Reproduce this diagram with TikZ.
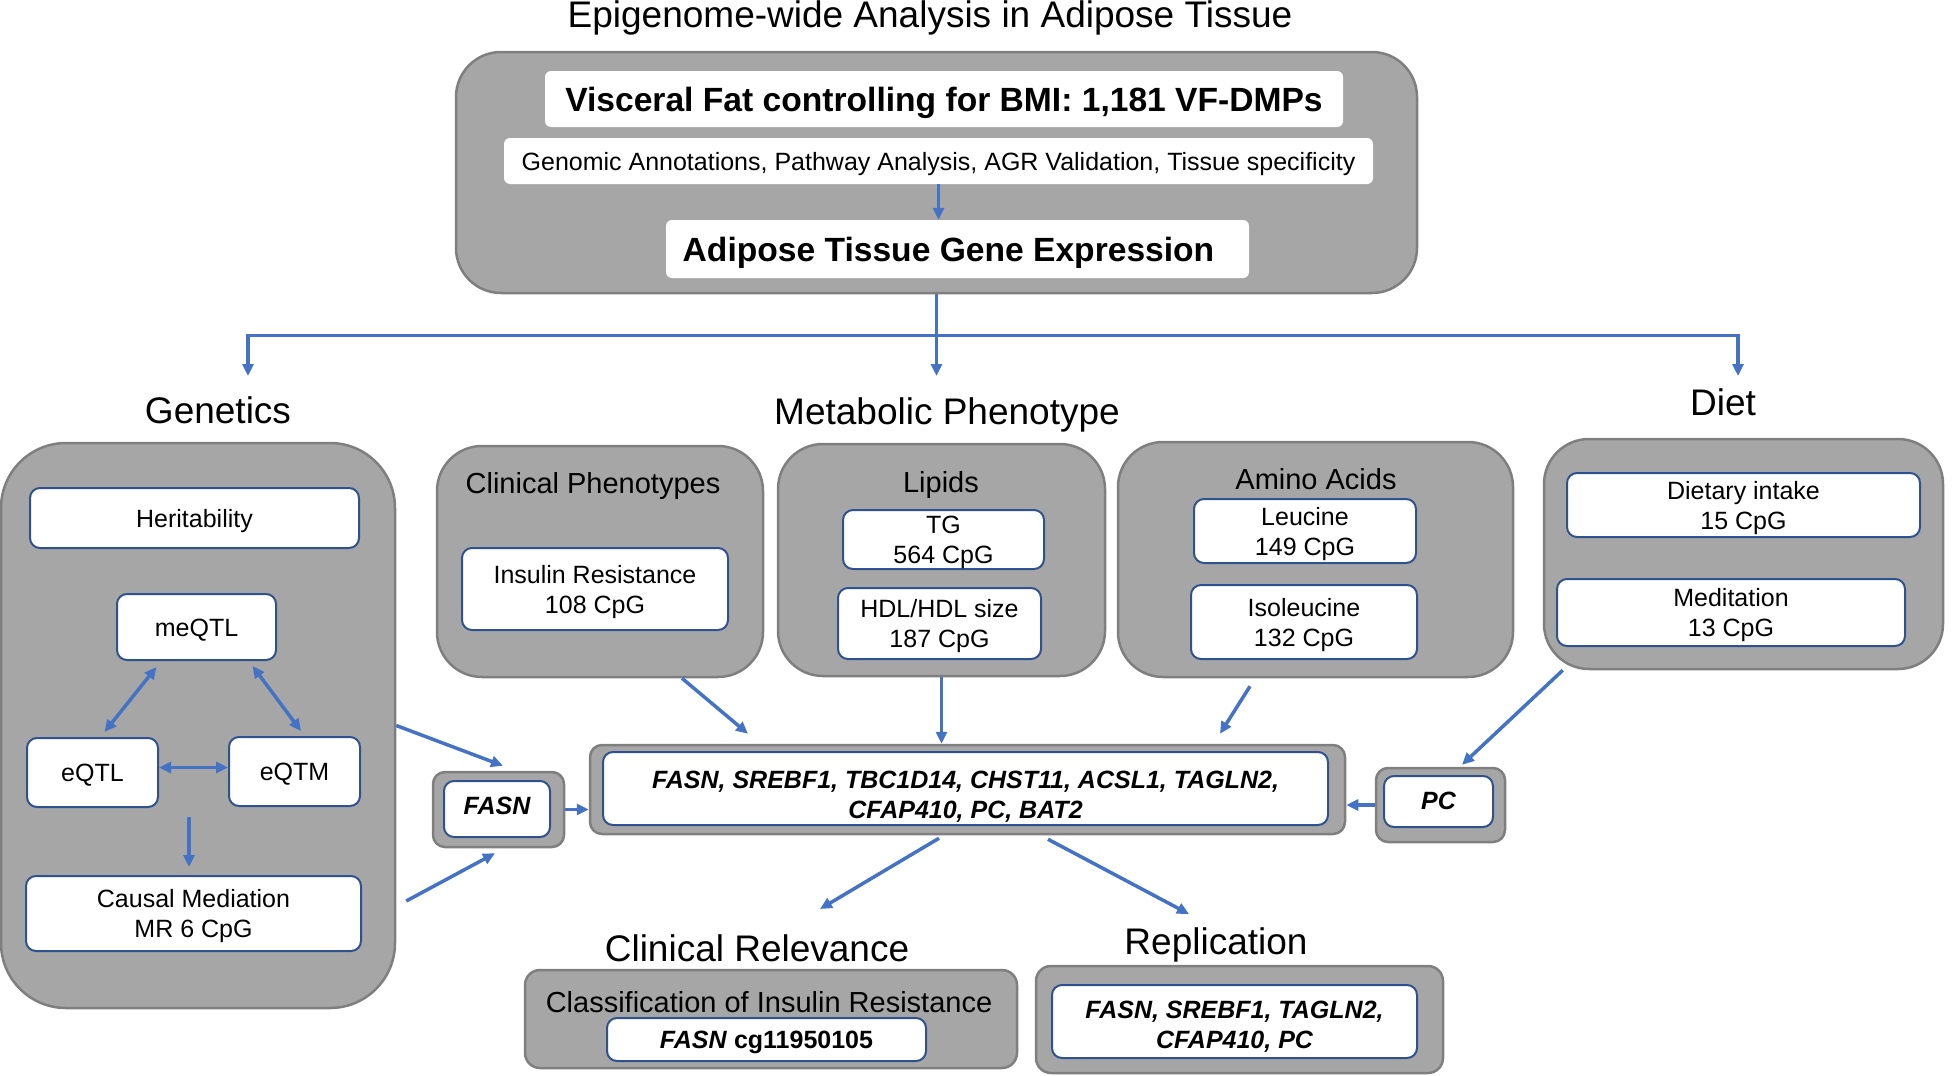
\documentclass[tikz,border=0pt]{standalone}
\usepackage{fontspec}
\setmainfont{Liberation Sans}
\usetikzlibrary{arrows.meta}
\definecolor{panelfill}{RGB}{166,166,166}
\definecolor{panelline}{RGB}{127,127,127}
\definecolor{cellline}{RGB}{47,82,143}
\definecolor{flowblue}{RGB}{68,114,196}

\begin{document}
\begin{tikzpicture}[x = 1pt, y = -1pt,
        panel/.style = {draw = panelline, fill = panelfill, line width = 2.5pt, rounded corners = #1, inner sep = 0pt},
        panel/.default = 45pt,
        cell/.style = {draw = cellline, fill = white, line width = 2pt, rounded corners = 10pt, inner sep = 0pt, align = center, font = \fontsize{25}{30}\selectfont, text height = 21.5pt, text depth = 3.5pt},
        pair/.style = {cell, text height = 51.5pt},
        plain/.style = {fill = white, rounded corners = 6pt, inner sep = 0pt, align = center},
        heading/.style = {font = \fontsize{37}{44}\selectfont},
        caption/.style = {font = \fontsize{29}{34}\selectfont},
        gene/.style = {font = \fontsize{25}{30}\selectfont\bfseries\itshape},
        flow/.style = {draw = flowblue, line width = 3.5pt, -{Triangle[length = 12pt, width = 11pt]}},
        twoway/.style = {flow, {Triangle[length = 12pt, width = 11pt]}-{Triangle[length = 12pt, width = 11pt]}}]
    \useasboundingbox (0, 0) rectangle (1952, 1076);

    % top panel
    \node[heading] (title) at (930, 18) {Epigenome-wide Analysis in Adipose Tissue};
    \node[panel = 45pt, minimum width = 961pt, minimum height = 241pt] (top) at (936.5, 172.5) {};
    \node[plain, minimum width = 798pt, minimum height = 56pt, font = \fontsize{33.6}{38}\selectfont\bfseries, text height = 28pt, text depth = 4pt] (visceral) at (944, 99) {Visceral Fat controlling for BMI: 1,181 VF-DMPs};
    \node[plain, minimum width = 869pt, minimum height = 46pt, font = \fontsize{25}{30}\selectfont, text height = 21.5pt, text depth = 3.5pt] (genomic) at (938.5, 161) {Genomic Annotations, Pathway Analysis, AGR Validation, Tissue specificity};
    \node[plain, minimum width = 583pt, minimum height = 58pt, font = \fontsize{33.6}{38}\selectfont\bfseries, text height = 28pt, text depth = 4pt] (adipose) at (957.5, 249) {Adipose Tissue Gene Expression\hspace*{18pt}};
    \draw[flow] (genomic.south) -- (genomic.south |- adipose.north);

    % branches
    \coordinate (split) at ([yshift = -41pt]top.south);
    \coordinate (gtip) at (248, 376);
    \coordinate (mtip) at (936.5, 376);
    \coordinate (dtip) at (1738, 376);
    \draw[draw = flowblue, line width = 3.5pt] (top.south) -- (split);
    \draw[flow] (split) -| (gtip);
    \draw[flow] (split) -- (mtip);
    \draw[flow] (split) -| (dtip);

    % genetics
    \node[heading] (genlabel) at (218, 410) {Genetics};
    \node[panel = 65pt, minimum width = 394pt, minimum height = 565pt] (gen) at (198, 725.5) {};
    \node[cell, minimum width = 329pt, minimum height = 60pt] (herit) at (194.5, 518) {Heritability};
    \node[cell, minimum width = 159pt, minimum height = 66pt] (meqtl) at (196.5, 627) {meQTL};
    \node[cell, minimum width = 131pt, minimum height = 69pt] (eqtl) at (92.5, 772.5) {eQTL};
    \node[cell, minimum width = 131pt, minimum height = 69pt] (eqtm) at (294.5, 771.5) {eQTM};
    \node[pair, minimum width = 335pt, minimum height = 75pt] (caus) at (193.5, 913.5) {Causal Mediation\\MR 6 CpG};
    \draw[twoway] ([xshift = -40pt, yshift = -6pt]meqtl.south) -- ([xshift = 12pt, yshift = 5pt]eqtl.north);
    \draw[twoway] ([xshift = 56pt, yshift = -5pt]meqtl.south) -- ([xshift = 6.5pt, yshift = 5pt]eqtm.north);
    \draw[twoway] ([yshift = 5pt]eqtl.east) -- ([yshift = 5pt]eqtl.east -| eqtm.west);
    \draw[flow] ([xshift = -4.5pt, yshift = 58pt]caus.north) -- ([xshift = -4.5pt, yshift = 8pt]caus.north);

    % metabolic phenotype
    \node[heading] (metlabel) at (947, 415) {Metabolic Phenotype};
    \node[panel, minimum width = 326pt, minimum height = 231pt] (clin) at (600, 561.5) {};
    \node[caption] (clintitle) at (593, 486) {Clinical Phenotypes};
    \node[pair, minimum width = 266pt, minimum height = 82pt] (insulin) at (595, 589) {Insulin Resistance\\108 CpG};
    \node[panel, minimum width = 327pt, minimum height = 232pt] (lipid) at (941.5, 560) {};
    \node[caption] (lipidtitle) at (941, 485) {Lipids};
    \node[pair, minimum width = 201pt, minimum height = 59pt] (tg) at (943.5, 539.5) {TG\\564 CpG};
    \node[pair, minimum width = 203pt, minimum height = 71pt] (hdl) at (939.5, 623.5) {HDL/HDL size\\187 CpG};
    \node[panel, minimum width = 395pt, minimum height = 235pt] (amino) at (1315.5, 559.5) {};
    \node[caption] (aminotitle) at (1316, 479) {Amino Acids};
    \node[pair, minimum width = 222pt, minimum height = 64pt] (leu) at (1305, 531) {Leucine\\149 CpG};
    \node[pair, minimum width = 226pt, minimum height = 74pt] (iso) at (1304, 622) {Isoleucine\\132 CpG};

    % diet
    \node[heading] (dietlabel) at (1723, 402) {Diet};
    \node[panel, minimum width = 399pt, minimum height = 230pt] (diet) at (1743.5, 554) {};
    \node[pair, minimum width = 353pt, minimum height = 64pt] (intake) at (1743.5, 505) {Dietary intake\\15 CpG};
    \node[pair, minimum width = 348pt, minimum height = 67pt] (medit) at (1731, 612.5) {Meditation\\13 CpG};

    % genes
    \node[panel = 12pt, minimum width = 755pt, minimum height = 89pt] (central) at (967.5, 789.5) {};
    \node[pair, gene, minimum width = 725pt, minimum height = 73pt, text height = 63.5pt] (genes) at (965.5, 788.5) {FASN, SREBF1, TBC1D14, CHST11, ACSL1, TAGLN2,\\CFAP410, PC, BAT2};
    \node[panel = 12pt, minimum width = 131pt, minimum height = 75pt] (fasnp) at (498.5, 809.5) {};
    \node[cell, gene, minimum width = 106pt, minimum height = 56pt, text height = 15pt, text depth = 4pt] (fasn) at (497, 809) {FASN};
    \node[panel = 12pt, minimum width = 129pt, minimum height = 74pt] (pcp) at (1440.5, 805) {};
    \node[cell, gene, minimum width = 109pt, minimum height = 51pt, text height = 20pt, text depth = 4pt] (pc) at (1438.5, 801.5) {PC};

    \draw[flow] (gen.east) -- ([xshift = 4.5pt, yshift = 5pt]fasnp.north);
    \draw[flow] ([xshift = 10pt, yshift = -175.5pt]gen.east) -- ([xshift = -3.5pt, yshift = -5pt]fasnp.south);
    \draw[flow] (fasnp.east) -- (fasnp.east -| central.west);
    \draw[flow] (pcp.west) -- (pcp.west -| central.east);
    \draw[flow] ([xshift = 82pt]clin.south) -- ([xshift = -219.5pt, yshift = 10pt]central.north);
    \draw[flow] (lipid.south) -- (lipid.south |- central.north);
    \draw[flow] ([xshift = -65.5pt, yshift = -8pt]amino.south) -- ([xshift = 252.5pt, yshift = 10pt]central.north);
    \draw[flow] ([xshift = 20pt]diet.south west) -- ([xshift = 21.5pt, yshift = 2pt]pcp.north);

    % clinical relevance and replication
    \node[heading] (crlabel) at (757, 948) {Clinical Relevance};
    \node[panel = 15pt, minimum width = 492pt, minimum height = 98pt] (cr) at (771, 1019) {};
    \node[caption] (crtitle) at (769, 1002) {Classification of Insulin Resistance};
    \node[cell, minimum width = 319pt, minimum height = 43pt] (cg) at (766.5, 1039.5) {\textbf{\textit{FASN} cg11950105}};
    \node[heading] (replabel) at (1216, 945) {Replication};
    \node[panel = 15pt, minimum width = 407pt, minimum height = 107pt] (rep) at (1239.5, 1019.5) {};
    \node[pair, gene, minimum width = 365pt, minimum height = 73pt, text height = 57.5pt] (repgenes) at (1234.5, 1021.5) {FASN, SREBF1, TAGLN2,\\CFAP410, PC};
    \draw[flow] ([xshift = -28.5pt, yshift = -3pt]central.south) -- ([shift = {(63pt, 39pt)}]crlabel.center);
    \draw[flow] ([xshift = 80.5pt, yshift = -4pt]central.south) -- ([shift = {(-27pt, 31pt)}]replabel.center);
\end{tikzpicture}
\end{document}
